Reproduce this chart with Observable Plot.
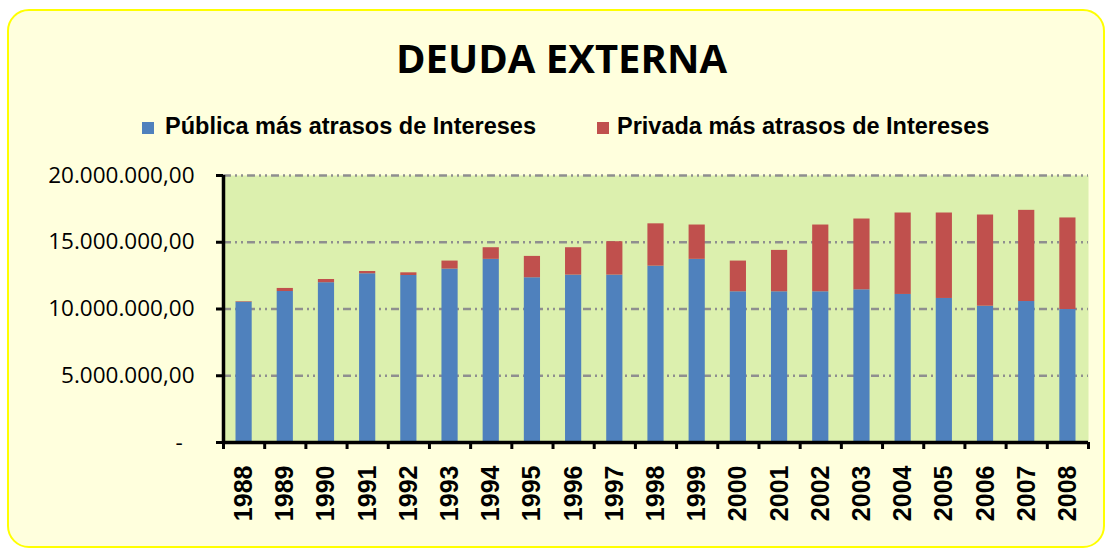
<!DOCTYPE html>
<html><head><meta charset="utf-8">
<script src="https://cdn.jsdelivr.net/npm/d3@7"></script>
<script src="https://cdn.jsdelivr.net/npm/@observablehq/plot@0.6"></script>
<style>
body{margin:0;background:#fff;width:1111px;height:548px;overflow:hidden;position:relative;}
#frame{position:absolute;left:7px;top:9px;width:1094px;height:535px;border:2px solid #FFFF00;border-radius:22px;background:#FFFFDD;}
#title{position:absolute;left:561.5px;top:37.5px;transform:translateX(-50%);font:bold 40px "Open Sans";line-height:1;white-space:nowrap;color:#000;}
.legtext{position:absolute;top:115px;font:bold 23.5px "Liberation Sans";line-height:1;white-space:nowrap;color:#000;}
.sw{position:absolute;width:12px;height:12px;top:122px;}
#chart{position:absolute;left:0;top:160px;}
</style></head><body>
<div id="frame"></div>
<div id="title">DEUDA EXTERNA</div>
<div id="legend"></div>
<div id="chart"></div>
<script>
const years = [1988,1989,1990,1991,1992,1993,1994,1995,1996,1997,1998,1999,2000,2001,2002,2003,2004,2005,2006,2007,2008];
const publica = [10510000,11310000,11970000,12640000,12510000,12990000,13720000,12340000,12540000,12540000,13210000,13720000,11290000,11290000,11290000,11440000,11090000,10790000,10210000,10560000,9960000];
const privada = [40000,230000,240000,170000,200000,600000,870000,1600000,2050000,2500000,3170000,2570000,2300000,3100000,5000000,5300000,6100000,6400000,6830000,6830000,6860000];
const seriesNames = ["Pública más atrasos de Intereses","Privada más atrasos de Intereses"];
const seriesColors = ["#4F81BD","#C0504D"];
const yTicks = [0,5000000,10000000,15000000,20000000];

// legend
const legendSwatchX = [142,597];
const legendTextX = [165,617];
const leg = document.getElementById("legend");
seriesNames.forEach((name,i)=>{
  const sw = document.createElement("div");
  sw.className="sw"; sw.style.left=legendSwatchX[i]+"px"; sw.style.background=seriesColors[i];
  const t = document.createElement("div");
  t.className="legtext"; t.style.left=legendTextX[i]+"px"; t.textContent=name;
  leg.appendChild(sw); leg.appendChild(t);
});

const data = years.flatMap((year,i)=>[
  {year, serie: seriesNames[0], value: publica[i]},
  {year, serie: seriesNames[1], value: privada[i]}
]);
const boundaries = [years[0]-0.5, ...years.map(y=>y+0.5)];
const es = d3.formatLocale({decimal:",", thousands:".", grouping:[3], currency:["",""]});
const num = es.format(",.2f");
const fmt = d => d===0 ? "-\u00a0\u00a0" : num(d);

const chart = Plot.plot({
  width:1111, height:388,
  marginLeft:223, marginRight:23, marginTop:15, marginBottom:106,
  style:{background:"transparent", overflow:"visible", fontFamily:"Liberation Sans"},
  x:{domain:[years[0]-0.5, years[years.length-1]+0.5]},
  y:{domain:[0,20000000]},
  color:{domain:seriesNames, range:seriesColors},
  marks:[
    Plot.frame({fill:"#DCF0AE", stroke:null}),
    Plot.gridY(yTicks.filter(d=>d>0), {stroke:"#8f8f8f", strokeOpacity:1, strokeWidth:2.5, strokeDasharray:"8,4,2,4,2,4"}),
    Plot.rectY(data, {x1:d=>d.year-0.5, x2:d=>d.year+0.5, y:"value", fill:"serie", insetLeft:12.5, insetRight:12.5}),
    Plot.axisY(yTicks, {tickSize:7, tickPadding:22, tickFormat:fmt, fontSize:22.5, fontFamily:"Open Sans", color:"#000", strokeWidth:3, label:null}),
    Plot.axisX(boundaries, {tickSize:7, tickFormat:()=>"", color:"#000", strokeWidth:3, label:null}),
    Plot.axisX(years, {tickSize:0, tickPadding:23, tickRotate:-90, tickFormat:d=>String(d), fontSize:25, fontWeight:"bold", color:"#000", label:null}),
    Plot.ruleY([0], {stroke:"#000", strokeWidth:3.5}),
    Plot.ruleX([years[0]-0.5], {stroke:"#000", strokeWidth:3.5})
  ]
});
document.getElementById("chart").appendChild(chart);
</script>
</body></html>
